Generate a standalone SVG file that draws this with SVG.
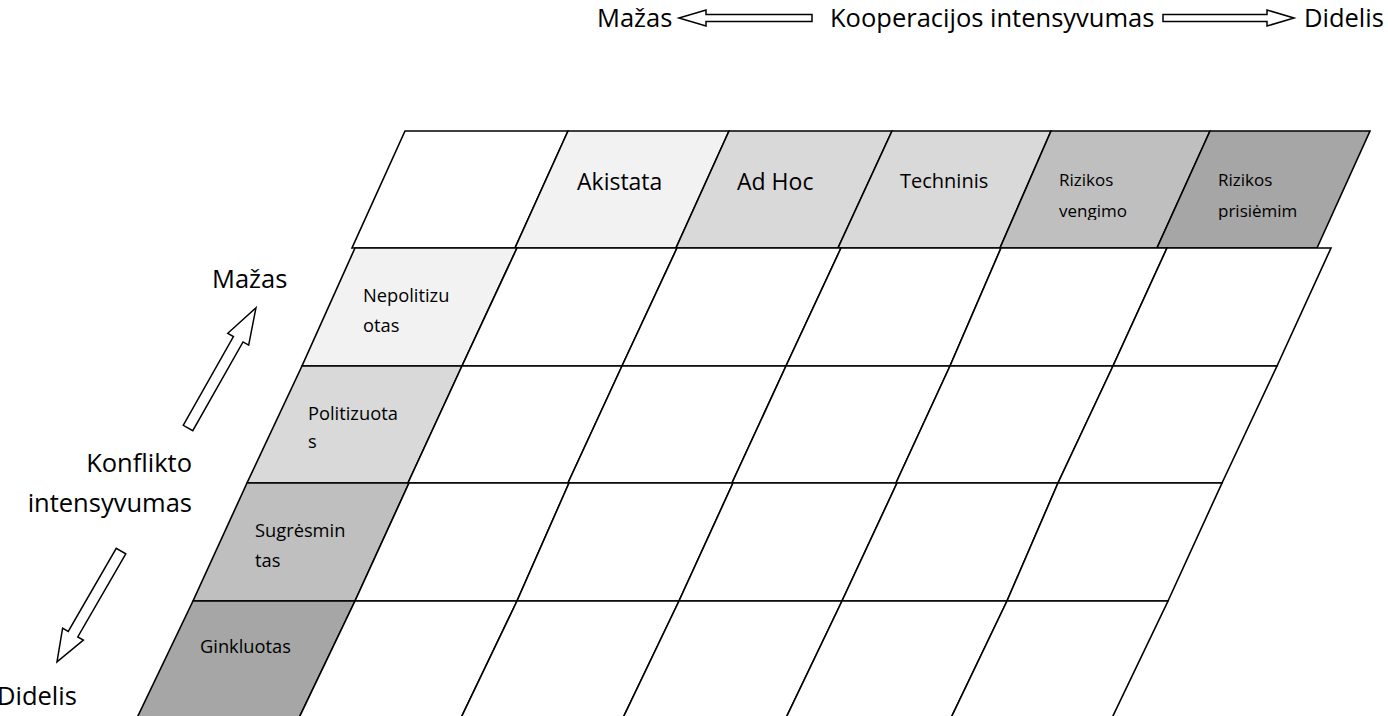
<svg xmlns="http://www.w3.org/2000/svg" width="1388" height="716" viewBox="0 0 1388 716">
<style>
.c{stroke:#000;stroke-width:1.6;stroke-linejoin:miter}
.w{fill:#fff}.g1{fill:#f2f2f2}.g2{fill:#d9d9d9}.g3{fill:#bfbfbf}.g4{fill:#a6a6a6}
text{font-family:"Open Sans","Liberation Sans",sans-serif;fill:#000}
.big{font-size:25.5px}
.hd{font-size:23px}
.sm{font-size:18.3px}
.xs{font-size:17px}
.arr{fill:#fff;stroke:#000;stroke-width:1.5;stroke-linejoin:miter}
</style>
<defs>
<clipPath id="clipHd"><rect x="0" y="0" width="1388" height="220"/></clipPath>
</defs>
<rect width="1388" height="716" fill="#fff"/>

<g id="header-row">
<polygon class="c w" points="405,131 568,131 515,248 352,248"/>
<g id="akistata"><polygon class="c g1" points="568,131 729,131 676,248 515,248"/><text class="hd" x="577" y="190">Akistata</text></g>
<g id="adhoc"><polygon class="c g2" points="729,131 892,131 838,248 676,248"/><text class="hd" x="737" y="190">Ad Hoc</text></g>
<g id="techninis"><polygon class="c g2" points="892,131 1051,131 1000,248 838,248"/><text x="900" y="188" font-size="20px">Techninis</text></g>
<g id="rizikos-vengimo"><polygon class="c g3" points="1051,131 1210,131 1157,248 1000,248"/><text class="xs" x="1059" y="186">Rizikos</text><text class="xs" x="1059" y="217" clip-path="url(#clipHd)">vengimo</text></g>
<g id="rizikos-prisiemim"><polygon class="c g4" points="1210,131 1370,131 1317,248 1157,248"/><text class="xs" x="1218" y="186">Rizikos</text><text class="xs" x="1218" y="217" clip-path="url(#clipHd)">prisiėmim</text></g>
</g>

<g id="row-nepolitizuotas">
<polygon class="c g1" points="355,248 517,248 462,366 302,366"/>
<polygon class="c w" points="517,248 677,248 622,366 462,366"/>
<polygon class="c w" points="677,248 841,248 786,366 622,366"/>
<polygon class="c w" points="841,248 1001,248 950,366 786,366"/>
<polygon class="c w" points="1001,248 1167,248 1113,366 950,366"/>
<polygon class="c w" points="1167,248 1331,248 1277,366 1113,366"/>
<text class="sm" x="363" y="302">Nepolitizu</text><text class="sm" x="363" y="332">otas</text>
</g>

<g id="row-politizuotas">
<polygon class="c g2" points="302,366 462,366 408,483 247,483"/>
<polygon class="c w" points="462,366 622,366 568,483 408,483"/>
<polygon class="c w" points="622,366 786,366 732,483 568,483"/>
<polygon class="c w" points="786,366 950,366 896,483 732,483"/>
<polygon class="c w" points="950,366 1113,366 1058,483 896,483"/>
<polygon class="c w" points="1113,366 1277,366 1222,483 1058,483"/>
<text class="sm" x="308" y="420">Politizuota</text><text class="sm" x="308" y="448">s</text>
</g>

<g id="row-sugresmintas">
<polygon class="c g3" points="247,483 409,483 355,601 193,601"/>
<polygon class="c w" points="409,483 569,483 517,601 355,601"/>
<polygon class="c w" points="569,483 733,483 679,601 517,601"/>
<polygon class="c w" points="733,483 897,483 842,601 679,601"/>
<polygon class="c w" points="897,483 1058,483 1007,601 842,601"/>
<polygon class="c w" points="1058,483 1222,483 1168,601 1007,601"/>
<text class="sm" x="255" y="537">Sugrėsmin</text><text class="sm" x="255" y="567">tas</text>
</g>

<g id="row-ginkluotas">
<polygon class="c g4" points="193,601 355,601 298,720 136,720"/>
<polygon class="c w" points="355,601 517,601 460,720 298,720"/>
<polygon class="c w" points="517,601 679,601 622,720 460,720"/>
<polygon class="c w" points="679,601 842,601 785,720 622,720"/>
<polygon class="c w" points="842,601 1007,601 950,720 785,720"/>
<polygon class="c w" points="1007,601 1168,601 1111,720 950,720"/>
<text class="sm" x="200" y="653">Ginkluotas</text>
</g>

<g id="top-axis">
<text class="big" x="597" y="27">Mažas</text>
<text class="big" x="830" y="27">Kooperacijos intensyvumas</text>
<text class="big" x="1304" y="27">Didelis</text>
</g>

<g id="left-axis">
<text class="big" x="212" y="288">Mažas</text>
<text class="big" x="192" y="472" text-anchor="end">Konflikto</text>
<text class="big" x="192" y="512" text-anchor="end">intensyvumas</text>
<text class="big" x="-3" y="705">Didelis</text>
</g>

<g id="connectors">
<polygon class="arr" points="679,18 706,10 706,14.5 812,14.5 812,21.5 706,21.5 706,26"/>
<polygon class="arr" points="1294,18 1267,10 1267,14.5 1163,14.5 1163,21.5 1267,21.5 1267,26"/>
<polygon class="arr" transform="translate(188,428) rotate(-60.5)" points="0,-5.5 102,-5.5 102,-12 138,0 102,12 102,5.5 0,5.5"/>
<polygon class="arr" transform="translate(121,551) rotate(120)" points="0,-5.5 96,-5.5 96,-12 128,0 96,12 96,5.5 0,5.5"/>
</g>
</svg>
